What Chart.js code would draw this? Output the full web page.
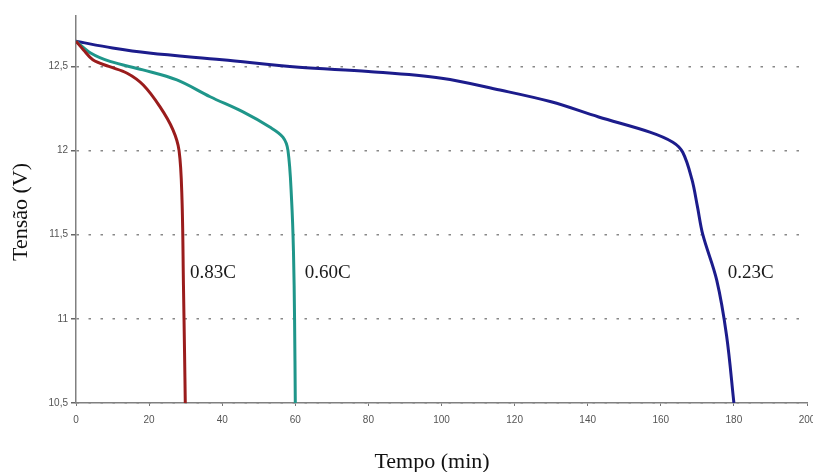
<!DOCTYPE html>
<html>
<head>
<meta charset="utf-8">
<script src="https://cdn.jsdelivr.net/npm/chart.js@4"></script>
<style>
  html, body { margin: 0; padding: 0; background: #fff; }
  #wrap { width: 813px; height: 472px; }
</style>
</head>
<body>
<div id="wrap"><canvas id="c" width="813" height="472"></canvas></div>
<script>
// discharge curves (min, V)
const t083 = [0, 2, 4.6, 9, 14, 18.4, 23, 26.5, 28.2, 29, 29.4, 29.7, 29.9];
const v083 = [12.65, 12.6, 12.54, 12.5, 12.46, 12.39, 12.26, 12.125, 12.0, 11.71, 11.2, 10.8, 10.5];

const t060 = [0, 4, 9.3, 18.3, 27.6, 36.7, 45.7, 53, 56.6, 58, 59, 59.5, 59.8, 60];
const v060 = [12.65, 12.58, 12.53, 12.48, 12.42, 12.32, 12.23, 12.14, 12.08, 12.0, 11.7, 11.4, 11.0, 10.5];

const t023 = [0, 10, 20, 40, 61, 80, 100, 116, 130, 143, 157, 163.3, 166, 168.5, 170, 171.5, 175.3, 178, 180];
const v023 = [12.65, 12.61, 12.58, 12.54, 12.495, 12.47, 12.43, 12.36, 12.29, 12.2, 12.11, 12.05, 11.99, 11.83, 11.67, 11.5, 11.23, 10.9, 10.5];

const yTicks = [10.5, 11, 11.5, 12, 12.5];
const seriesNames = ['0.83C', '0.60C', '0.23C'];
const labelAt = [[31.2, 11.27], [62.6, 11.27], [178.3, 11.27]];
const xTitle = 'Tempo (min)';
const yTitle = 'Tensão (V)';

const pts = (xs, ys) => xs.map((x, i) => ({ x: x, y: ys[i] }));
const serif = '"Liberation Serif", "Times New Roman", serif';

const textLayer = {
  id: 'textLayer',
  afterDatasetsDraw(chart) {
    const { ctx, scales: { x, y } } = chart;
    ctx.save();
    ctx.fillStyle = '#1a1a1a';
    ctx.textBaseline = 'middle';
    ctx.font = '19px ' + serif;
    seriesNames.forEach((name, i) => {
      ctx.fillText(name, x.getPixelForValue(labelAt[i][0]), y.getPixelForValue(labelAt[i][1]));
    });
    // axis titles
    ctx.fillStyle = '#111';
    ctx.font = '22px ' + serif;
    ctx.textAlign = 'center';
    ctx.fillText(xTitle, 432, 462);
    ctx.translate(21, 212);
    ctx.rotate(-Math.PI / 2);
    ctx.fillText(yTitle, 0, 0);
    ctx.restore();
  }
};

new Chart(document.getElementById('c'), {
  type: 'scatter',
  data: {
    datasets: [
      { label: seriesNames[0], data: pts(t083, v083), borderColor: '#9a1c1c' },
      { label: seriesNames[1], data: pts(t060, v060), borderColor: '#1f968a' },
      { label: seriesNames[2], data: pts(t023, v023), borderColor: '#1c1c8c' }
    ].map(d => Object.assign(d, {
      showLine: true, pointRadius: 0, borderWidth: 3, tension: 0.35, fill: false
    }))
  },
  options: {
    responsive: false,
    animation: false,
    layout: { padding: { top: 16, right: 6, left: 0, bottom: 0 } },
    plugins: { legend: { display: false }, tooltip: { enabled: false } },
    scales: {
      x: {
        type: 'linear', min: 0, max: 200,
        ticks: { stepSize: 20, color: '#555', font: { family: 'Arial, "Liberation Sans"', size: 10 }, padding: 8, maxRotation: 0 },
        grid: { display: true, drawOnChartArea: false, tickLength: 3, color: '#777' },
        border: { color: '#808080', width: 1.5 },
        afterFit(s) { s.height = 69; s.paddingRight = 0; }
      },
      y: {
        type: 'linear', min: 10.5, max: 12.8,
        afterBuildTicks(s) { s.ticks = yTicks.map(v => ({ value: v })); },
        ticks: { color: '#555', font: { family: 'Arial, "Liberation Sans"', size: 10 }, padding: 3,
                 callback: v => String(v).replace('.', ',') },
        grid: { color: '#888', lineWidth: 1.5, tickLength: 5, tickBorderDash: [], tickColor: '#666' },
        border: { color: '#808080', width: 1.5, dash: [2.5, 9.5] },
        afterFit(s) { s.width = 76; }
      }
    }
  },
  plugins: [textLayer]
});
</script>
</body>
</html>
